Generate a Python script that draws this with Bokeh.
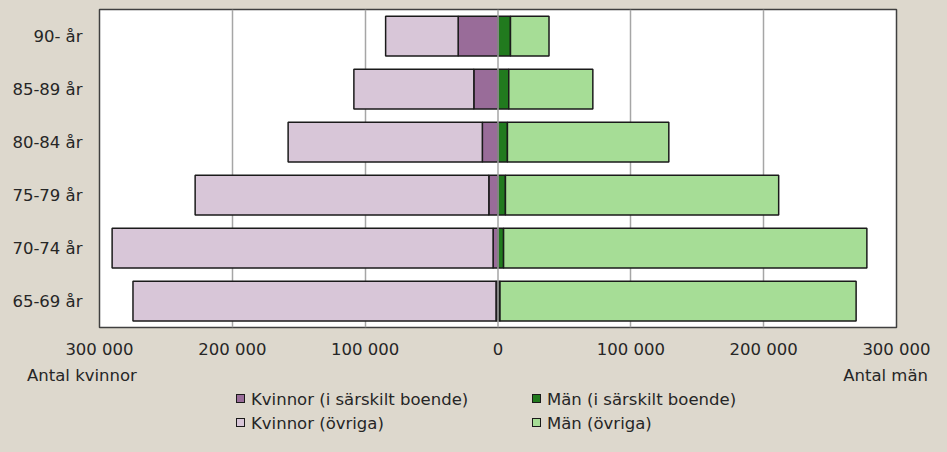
from bokeh.plotting import figure
from bokeh.models import (ColumnDataSource, FactorRange, Range1d, FixedTicker,
                          Span, Div)
from bokeh.layouts import column
from bokeh.embed import file_html
from bokeh.resources import INLINE

# ---- data ----
ages = ["65-69 år", "70-74 år", "75-79 år", "80-84 år", "85-89 år", "90- år"]
kvinnor_sarskilt = [1500, 3700, 6900, 11800, 18200, 30000]
kvinnor_ovriga = [273300, 286800, 221100, 146200, 90300, 54600]
man_sarskilt = [1500, 4200, 5600, 7100, 8100, 9400]
man_ovriga = [268100, 273500, 205700, 121500, 63300, 29000]

tick_values = [-300000, -200000, -100000, 0, 100000, 200000, 300000]
tick_labels = ["300 000", "200 000", "100 000", "0", "100 000", "200 000", "300 000"]

series_names = ["Kvinnor (i särskilt boende)", "Män (i särskilt boende)",
                "Kvinnor (övriga)", "Män (övriga)"]
axis_titles = ["Antal kvinnor", "Antal män"]

# ---- style ----
BG = "#DDD8CD"
FONT = "DejaVu Sans"
FS = "16.5px"
TXT = "#262626"
C_KV_SB = "#996C99"
C_KV_OV = "#D8C6D8"
C_MAN_SB = "#217A1E"
C_MAN_OV = "#A6DD96"
EDGE = "#1A1A1A"
W = 931
H_PLOT = 361
H_FOOT = 75

source = ColumnDataSource(dict(
    age=ages,
    kv_sb=[-v for v in kvinnor_sarskilt],
    kv_ov=[-v for v in kvinnor_ovriga],
    man_sb=man_sarskilt,
    man_ov=man_ovriga,
))

p = figure(y_range=FactorRange(factors=ages), x_range=Range1d(-300000, 300000),
           width=W, height=H_PLOT, output_backend="svg", toolbar_location=None,
           min_border_left=99, min_border_right=35, min_border_top=9,
           min_border_bottom=30, background_fill_color="white",
           border_fill_color=BG)

women = p.hbar_stack(["kv_sb", "kv_ov"], y="age", height=0.75,
                     fill_color=[C_KV_SB, C_KV_OV], line_color=EDGE,
                     line_width=1.5, source=source)
men = p.hbar_stack(["man_sb", "man_ov"], y="age", height=0.75,
                   fill_color=[C_MAN_SB, C_MAN_OV], line_color=EDGE,
                   line_width=1.5, source=source)

p.add_layout(Span(location=0, dimension="height", line_color="#A6A6A6",
                  line_width=1.5, level="overlay"))

p.outline_line_color = "#404040"
p.outline_line_width = 1.5

p.xgrid.ticker = FixedTicker(ticks=[-200000, -100000, 100000, 200000])
p.xgrid.grid_line_color = "#A6A6A6"
p.xgrid.grid_line_width = 1.5
p.ygrid.grid_line_color = None

p.xaxis.ticker = FixedTicker(ticks=tick_values)
p.xaxis.major_label_overrides = {v: l for v, l in zip(tick_values, tick_labels)}
for ax in (p.xaxis[0], p.yaxis[0]):
    ax.axis_line_color = None
    ax.major_tick_line_color = None
    ax.minor_tick_line_color = None
    ax.major_tick_in = 0
    ax.major_tick_out = 0
    ax.major_label_text_font = FONT
    ax.major_label_text_font_size = FS
    ax.major_label_text_color = TXT
p.xaxis.major_label_standoff = 12
p.yaxis.major_label_standoff = 17

# ---- footer: axis titles and legend ----
legend_colors = [C_KV_SB, C_MAN_SB, C_KV_OV, C_MAN_OV]
col_x = [236, 532]
row_top = [29, 53]

parts = [
    '<span style="position:absolute;left:27px;top:5px;">%s</span>' % axis_titles[0],
    '<span style="position:absolute;right:3px;top:5px;">%s</span>' % axis_titles[1],
]
for i, (name, col) in enumerate(zip(series_names, legend_colors)):
    x = col_x[i % 2]
    y = row_top[i // 2]
    parts.append('<span style="position:absolute;left:%dpx;top:%dpx;width:9px;'
                 'height:9px;border:1px solid %s;background:%s;"></span>'
                 % (x, y + 4, EDGE, col))
    parts.append('<span style="position:absolute;left:%dpx;top:%dpx;'
                 'white-space:nowrap;">%s</span>' % (x + 15, y, name))

footer_html = ('<div style="position:relative;width:%dpx;height:%dpx;'
               "font-family:'%s';font-size:%s;line-height:20px;color:%s;"
               'background:%s;">%s</div>'
               % (W, H_FOOT, FONT, FS, TXT, BG, "".join(parts)))

footer = Div(text=footer_html, width=W, height=H_FOOT,
             styles={"margin": "0", "padding": "0"})

layout = column(p, footer, spacing=0)

html = file_html(layout, INLINE)
html = html.replace("</head>",
                    "<style>html, body { background-color: %s; }</style></head>" % BG, 1)
open("out.html", "w").write(html)
